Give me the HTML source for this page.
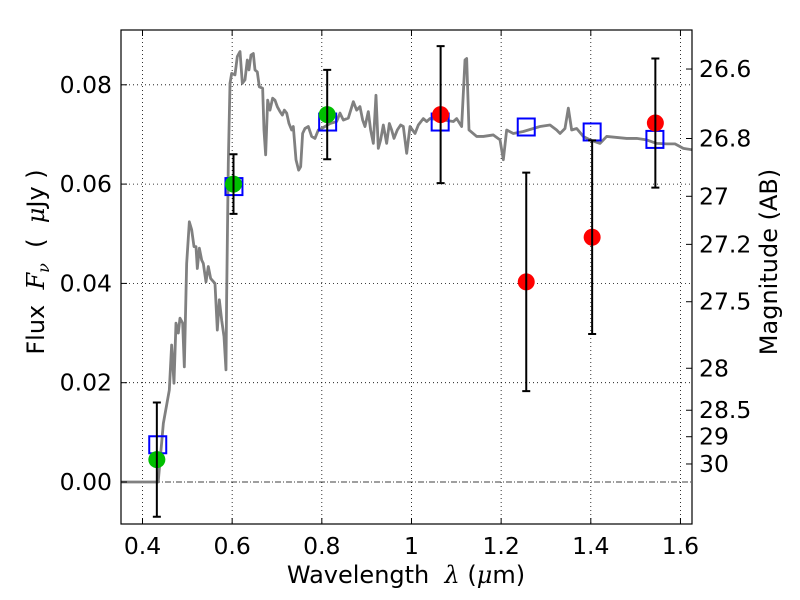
<!DOCTYPE html>
<html><head><meta charset="utf-8"><style>
body{margin:0;background:#fff;}
svg text{font-family:"DejaVu Sans","Liberation Sans",sans-serif;}
</style></head><body>
<svg id="chart" width="800" height="600" xmlns="http://www.w3.org/2000/svg" style="position:absolute;left:0;top:0">
<rect width="800" height="600" fill="#fff"/>
<g id="grid"></g><g id="marks"></g><g id="axes"></g>
</svg>
<script>
const specWl=[0.350,0.435,0.4465,0.4598,0.465,0.4702,0.4747,0.4799,0.4836,0.4896,0.4933,0.4985,0.5045,0.5097,0.5149,0.5193,0.5223,0.5268,0.5320,0.5357,0.5416,0.5468,0.5520,0.5617,0.5669,0.5714,0.5766,0.5818,0.5862,0.5877,0.5914,0.5952,0.5989,0.6063,0.6115,0.6175,0.6227,0.6286,0.6338,0.6375,0.6420,0.6472,0.6509,0.6561,0.6606,0.6680,0.6710,0.6747,0.6792,0.6844,0.6903,0.6955,0.7007,0.7067,0.7119,0.7164,0.7216,0.7268,0.7327,0.7364,0.7424,0.7483,0.7528,0.7572,0.7624,0.7699,0.7773,0.7847,0.7922,0.7996,0.8182,0.8331,0.8405,0.8480,0.8591,0.8703,0.8777,0.8851,0.8911,0.8963,0.9037,0.9089,0.9149,0.9208,0.9260,0.9312,0.9372,0.9446,0.9506,0.9558,0.9610,0.9684,0.9758,0.9818,0.9893,0.9967,1.0079,1.0153,1.0264,1.0339,1.0413,1.0711,1.0934,1.1008,1.1119,1.1194,1.1231,1.1283,1.1454,1.1603,1.1826,1.1975,1.2049,1.2123,1.2272,1.2495,1.2718,1.2867,1.3090,1.3238,1.3313,1.3424,1.3499,1.3573,1.3685,1.3833,1.3982,1.4205,1.4354,1.4577,1.4800,1.5023,1.5246,1.5469,1.5692,1.5878,1.6064,1.6272];
const specFlux=[0,0,0.0118,0.0185,0.0276,0.0199,0.0320,0.0300,0.0330,0.0320,0.0232,0.0440,0.0524,0.0508,0.0474,0.0474,0.0430,0.0471,0.0447,0.0440,0.0403,0.0434,0.0410,0.0400,0.0306,0.0367,0.0326,0.0293,0.0226,0.0373,0.0642,0.0803,0.0823,0.0820,0.0857,0.0867,0.0803,0.0810,0.0850,0.0830,0.0860,0.0863,0.0830,0.0826,0.0796,0.0793,0.0709,0.0659,0.0769,0.0749,0.0773,0.0769,0.0756,0.0746,0.0739,0.0749,0.0743,0.0722,0.0709,0.0716,0.0649,0.0628,0.0635,0.0702,0.0712,0.0716,0.0696,0.0692,0.0709,0.0712,0.0722,0.0726,0.0743,0.0729,0.0733,0.0766,0.0749,0.0756,0.0729,0.0716,0.0746,0.0709,0.0682,0.0779,0.0672,0.0689,0.0719,0.0682,0.0722,0.0709,0.0692,0.0709,0.0719,0.0716,0.0662,0.0716,0.0702,0.0719,0.0732,0.0726,0.0732,0.0729,0.0726,0.0732,0.0716,0.0850,0.0853,0.0709,0.0696,0.0696,0.0699,0.0689,0.0649,0.0709,0.0702,0.0706,0.0712,0.0716,0.0719,0.0709,0.0702,0.0712,0.0753,0.0709,0.0712,0.0696,0.0689,0.0682,0.0696,0.0694,0.0692,0.0692,0.0689,0.0682,0.0681,0.0681,0.0672,0.0669];
const modelWl=[0.434,0.604,0.813,1.064,1.256,1.403,1.543];
const modelFlux=[0.0075,0.0595,0.0725,0.0725,0.0715,0.0705,0.069];
const greenWl=[0.432,0.603,0.812];
const greenFlux=[0.0045,0.060,0.074];
const greenErr=[0.0115,0.006,0.009];
const redWl=[1.065,1.256,1.403,1.544];
const redFlux=[0.074,0.0403,0.0493,0.0723];
const redErr=[0.0138,0.022,0.0195,0.013];
const xTicks=[0.4,0.6,0.8,1.0,1.2,1.4,1.6];
const xTickLabels=["0.4","0.6","0.8","1","1.2","1.4","1.6"];
const yTicks=[0,0.02,0.04,0.06,0.08];
const yTickLabels=["0.00","0.02","0.04","0.06","0.08"];
const magTicks=[26.6,26.8,27,27.2,27.5,28,28.5,29,30];
const magTickLabels=["26.6","26.8","27","27.2","27.5","28","28.5","29","30"];

const L=121,R=692,T=30,B=524;
const FS=23.5;
const X=v=>142.5+(v-0.4)*448.3;
const Y=v=>482-v*4965;
const NS="http://www.w3.org/2000/svg";
function mk(tag,attrs,parent){const e=document.createElementNS(NS,tag);for(const k in attrs)e.setAttribute(k,attrs[k]);parent.appendChild(e);return e;}
const grid=document.getElementById('grid'),marks=document.getElementById('marks'),axes=document.getElementById('axes');

xTicks.forEach((t,i)=>{
  const g=mk('line',{x1:X(t),x2:X(t),y1:T,y2:B,stroke:'#000','stroke-width':0.8,'stroke-dasharray':'1,3'},grid);
  
  
  mk('line',{x1:X(t),x2:X(t),y1:B,y2:B-6,stroke:'#000','stroke-width':1},axes);
  mk('line',{x1:X(t),x2:X(t),y1:T,y2:T+6,stroke:'#000','stroke-width':1},axes);
  const tx=mk('text',{x:X(t),y:B+30,'text-anchor':'middle','font-size':FS},axes);
  tx.textContent=xTickLabels[i];
  
  
});
yTicks.forEach((t,i)=>{
  const g=mk('line',{x1:L,x2:R,y1:Y(t),y2:Y(t),stroke:'#000','stroke-width':0.8,'stroke-dasharray':t===0?'6,2,1,2':'1,3'},grid);
  
  
  mk('line',{x1:L,x2:L+6,y1:Y(t),y2:Y(t),stroke:'#000','stroke-width':1},axes);
  const tx=mk('text',{x:L-9,y:Y(t)+8,'text-anchor':'end','font-size':FS},axes);
  tx.textContent=yTickLabels[i];
  
  
});
magTicks.forEach((m,i)=>{
  const f=Math.pow(10,(23.9-m)/2.5);
  const y=Y(f);
  mk('line',{x1:R,x2:R-6,y1:y,y2:y,stroke:'#000','stroke-width':1},axes);
  const tx=mk('text',{x:R+7,y:y+8,'text-anchor':'start','font-size':FS},axes);
  tx.textContent=magTickLabels[i];
  
  
});

const clip=mk('clipPath',{id:'pc'},document.getElementById('chart'));
mk('rect',{x:L,y:T,width:R-L,height:B-T},clip);
const sp=mk('polyline',{points:specWl.map((w,i)=>X(w)+','+Y(specFlux[i])).join(' '),fill:'none',stroke:'#808080','stroke-width':2.8,'stroke-linejoin':'round','clip-path':'url(#pc)'},marks);



modelWl.forEach((w,i)=>{
  const s=mk('rect',{x:X(w)-8.5,y:Y(modelFlux[i])-8.5,width:17,height:17,fill:'none',stroke:'#0000ff','stroke-width':2},marks);
  
  
});
function pts(wl,fl,er,col,name){
  wl.forEach((w,i)=>{
    const c=mk('circle',{cx:X(w),cy:Y(fl[i]),r:8.5,fill:col},marks);
    
    
  });
  wl.forEach((w,i)=>{
    const x=X(w),y1=Y(fl[i]+er[i]),y2=Y(fl[i]-er[i]);
    const e=mk('path',{d:`M${x},${y1}V${y2}M${x-4},${y1}H${x+4}M${x-4},${y2}H${x+4}`,stroke:'#000','stroke-width':2,fill:'none'},marks);
    
    
  });
}
pts(greenWl,greenFlux,greenErr,'#00bf00','detected-flux-point');
pts(redWl,redFlux,redErr,'#ff0000','flux-point');

const fr=mk('rect',{x:L,y:T,width:R-L,height:B-T,fill:'none',stroke:'#000','stroke-width':1.2},axes);


</script>
<svg style="position:absolute;left:0;top:0" width="800" height="600">
<text xml:space="preserve" style="white-space:pre" x="406" y="583" text-anchor="middle" font-size="24" font-family="DejaVu Sans, sans-serif">Wavelength  <tspan font-style="italic" font-family="DejaVu Serif, serif">λ</tspan> (<tspan font-style="italic" font-family="DejaVu Serif, serif">μ</tspan>m)</text>
<text xml:space="preserve" style="white-space:pre" transform="translate(44,262) rotate(-90)" text-anchor="middle" font-size="24" font-family="DejaVu Sans, sans-serif">Flux  <tspan font-style="italic" font-family="DejaVu Serif, serif">F</tspan><tspan font-style="italic" font-family="DejaVu Serif, serif" font-size="16" dy="5">ν</tspan><tspan dy="-5">  (  </tspan><tspan font-style="italic" font-family="DejaVu Serif, serif">μ</tspan>Jy )</text>
<text transform="translate(777,262) rotate(-90)" text-anchor="middle" font-size="24" font-family="DejaVu Sans, sans-serif">Magnitude (AB)</text>
</svg>
</body></html>
